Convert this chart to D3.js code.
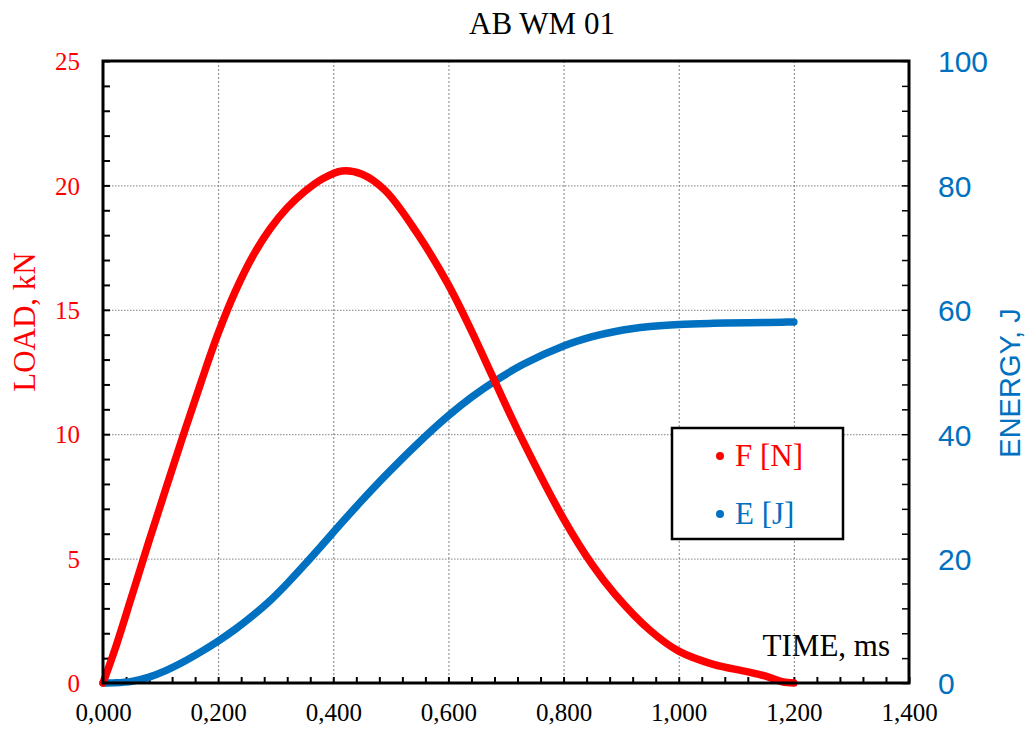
<!DOCTYPE html>
<html>
<head>
<meta charset="utf-8">
<script src="https://cdn.jsdelivr.net/npm/d3@7"></script>
<style>
  body { margin: 0; background: #fff; }
  svg { display: block; }
  .serif { font-family: "Liberation Serif", "Times New Roman", serif; }
  .sans { font-family: "Liberation Sans", Arial, sans-serif; }
</style>
</head>
<body>
<svg id="chart" width="1027" height="731"></svg>
<script>
// values
const times = [0, 0.02, 0.05, 0.08, 0.11, 0.14, 0.17, 0.2, 0.23, 0.26, 0.29, 0.32, 0.35, 0.38,
  0.415, 0.45, 0.49, 0.545, 0.6, 0.64, 0.68, 0.73, 0.8, 0.85, 0.89, 0.95, 1.0, 1.06, 1.12,
  1.155, 1.18, 1.2];
const loadKN = [0, 1.3, 3.49, 5.71, 7.87, 10.0, 12.07, 14.05, 15.75, 17.15, 18.25, 19.1, 19.75, 20.25,
  20.58, 20.45, 19.8, 18.1, 16.0, 14.15, 12.15, 9.7, 6.6, 4.75, 3.55, 2.12, 1.28, 0.75, 0.45,
  0.25, 0.05, 0];
const energyJ = [0, 0.02, 0.26, 0.95, 2.03, 3.41, 5.0, 6.74, 8.66, 10.82, 13.22, 16.0, 19.0, 22.12,
  25.8, 29.37, 33.29, 38.35, 42.97, 45.93, 48.49, 51.24, 54.18, 55.68, 56.52, 57.3, 57.65, 57.83,
  57.92, 57.97, 58.01, 58.04];

const xTicks = [0, 0.2, 0.4, 0.6, 0.8, 1.0, 1.2, 1.4];
const loadTicks = [0, 5, 10, 15, 20, 25];
const energyTicks = [0, 20, 40, 60, 80, 100];
const legendLabels = ["F [N]", "E [J]"];

const red = "#FF0000";
const blue = "#0070C0";

const svg = d3.select("#chart");
const pLeft = 103, pRight = 909, pTop = 61, pBottom = 683;

const x = d3.scaleLinear().domain([0, 1.4]).range([pLeft, pRight]);
const yL = d3.scaleLinear().domain([0, 25]).range([pBottom, pTop]);
const yR = d3.scaleLinear().domain([0, 100]).range([pBottom, pTop]);

const fmt = (d) => d3.format(".3f")(d).replace(".", ",");

// grid
svg.append("g")
  .attr("transform", `translate(0,${pBottom})`)
  .call(d3.axisBottom(x).tickValues(xTicks.slice(1, -1)).tickSize(-(pBottom - pTop)).tickFormat(""))
  .call((g) => g.select(".domain").remove())
  .selectAll("line")
  .attr("stroke", "#808080")
  .attr("stroke-dasharray", "2,2");

svg.append("g")
  .attr("transform", `translate(${pLeft},0)`)
  .call(d3.axisLeft(yL).tickValues(loadTicks.slice(1, -1)).tickSize(-(pRight - pLeft)).tickFormat(""))
  .call((g) => g.select(".domain").remove())
  .selectAll("line")
  .attr("stroke", "#808080")
  .attr("stroke-dasharray", "1.5,1.5");

// minor ticks (inside)
svg.append("g")
  .attr("transform", `translate(0,${pBottom})`)
  .call(d3.axisBottom(x).tickValues(d3.range(0, 36).map((i) => i * 0.04)).tickSize(-6).tickFormat(""))
  .call((g) => g.select(".domain").remove())
  .selectAll("line").attr("stroke", "#000").attr("stroke-width", 2);

svg.append("g")
  .attr("transform", `translate(${pLeft},0)`)
  .call(d3.axisLeft(yL).tickValues(d3.range(0, 26)).tickSize(-7).tickFormat(""))
  .call((g) => g.select(".domain").remove())
  .selectAll("line").attr("stroke", "#000").attr("stroke-width", 2);

svg.append("g")
  .attr("transform", `translate(${pRight},0)`)
  .call(d3.axisRight(yR).tickValues(d3.range(0, 101, 4)).tickSize(-7).tickFormat(""))
  .call((g) => g.select(".domain").remove())
  .selectAll("line").attr("stroke", "#000").attr("stroke-width", 1.5);

// tick labels
const xAx = svg.append("g")
  .attr("transform", `translate(0,${pBottom})`)
  .call(d3.axisBottom(x).tickValues(xTicks).tickSize(0).tickPadding(0).tickFormat(fmt));
xAx.select(".domain").remove();
xAx.selectAll("text")
  .attr("class", "serif")
  .attr("font-size", 25)
  .attr("fill", "#000")
  .attr("dy", null)
  .attr("y", 38);

const lAx = svg.append("g")
  .attr("transform", `translate(${pLeft},0)`)
  .call(d3.axisLeft(yL).tickValues(loadTicks).tickSize(0).tickPadding(0).tickFormat(d3.format("d")));
lAx.select(".domain").remove();
lAx.selectAll("text")
  .attr("class", "serif")
  .attr("font-size", 25)
  .attr("fill", red)
  .attr("x", -23)
  .attr("dy", "0.35em");

const rAx = svg.append("g")
  .attr("transform", `translate(${pRight},0)`)
  .call(d3.axisRight(yR).tickValues(energyTicks).tickSize(0).tickPadding(0).tickFormat(d3.format("d")));
rAx.select(".domain").remove();
rAx.selectAll("text")
  .attr("class", "sans")
  .attr("font-size", 30)
  .attr("fill", blue)
  .attr("x", 29)
  .attr("dy", "0.36em");

// curves
const lineE = d3.line()
  .x((d, i) => x(times[i]))
  .y((d) => yR(d))
  .curve(d3.curveCatmullRom.alpha(0.5));
const lineF = d3.line()
  .x((d, i) => x(times[i]))
  .y((d) => yL(d))
  .curve(d3.curveCatmullRom.alpha(0.5));

svg.append("path")
  .datum(energyJ)
  .attr("fill", "none")
  .attr("stroke", blue)
  .attr("stroke-width", 7.5)
  .attr("stroke-linecap", "round")
  .attr("stroke-linejoin", "round")
  .attr("d", lineE);

svg.append("path")
  .datum(loadKN)
  .attr("fill", "none")
  .attr("stroke", red)
  .attr("stroke-width", 7.5)
  .attr("stroke-linecap", "round")
  .attr("stroke-linejoin", "round")
  .attr("d", lineF);

// frame
svg.append("rect")
  .attr("x", pLeft).attr("y", pTop)
  .attr("width", pRight - pLeft).attr("height", pBottom - pTop)
  .attr("fill", "none")
  .attr("stroke", "#000")
  .attr("stroke-width", 3);

// titles
svg.append("text")
  .attr("class", "serif")
  .attr("x", 542).attr("y", 34)
  .attr("text-anchor", "middle")
  .attr("font-size", 31)
  .text("AB WM 01");

svg.append("text")
  .attr("class", "serif")
  .attr("transform", "translate(35,322) rotate(-90)")
  .attr("text-anchor", "middle")
  .attr("font-size", 31)
  .attr("fill", red)
  .text("LOAD, kN");

svg.append("text")
  .attr("class", "sans")
  .attr("transform", "translate(1020,383) rotate(-90)")
  .attr("text-anchor", "middle")
  .attr("font-size", 29)
  .attr("fill", blue)
  .text("ENERGY, J");

svg.append("text")
  .attr("class", "serif")
  .attr("x", 890).attr("y", 656)
  .attr("text-anchor", "end")
  .attr("font-size", 31)
  .text("TIME, ms");

// legend
const lg = svg.append("g");
lg.append("rect")
  .attr("x", 672).attr("y", 428)
  .attr("width", 171).attr("height", 111)
  .attr("fill", "#fff")
  .attr("stroke", "#000")
  .attr("stroke-width", 2.5);

const lgColors = [red, blue];
const lgY = [466, 524];
legendLabels.forEach((lab, i) => {
  lg.append("circle")
    .attr("cx", 720).attr("cy", lgY[i] - 10)
    .attr("r", 4)
    .attr("fill", lgColors[i]);
  lg.append("text")
    .attr("class", "serif")
    .attr("x", 735).attr("y", lgY[i])
    .attr("font-size", 31)
    .attr("fill", lgColors[i])
    .text(lab);
});
</script>
</body>
</html>
